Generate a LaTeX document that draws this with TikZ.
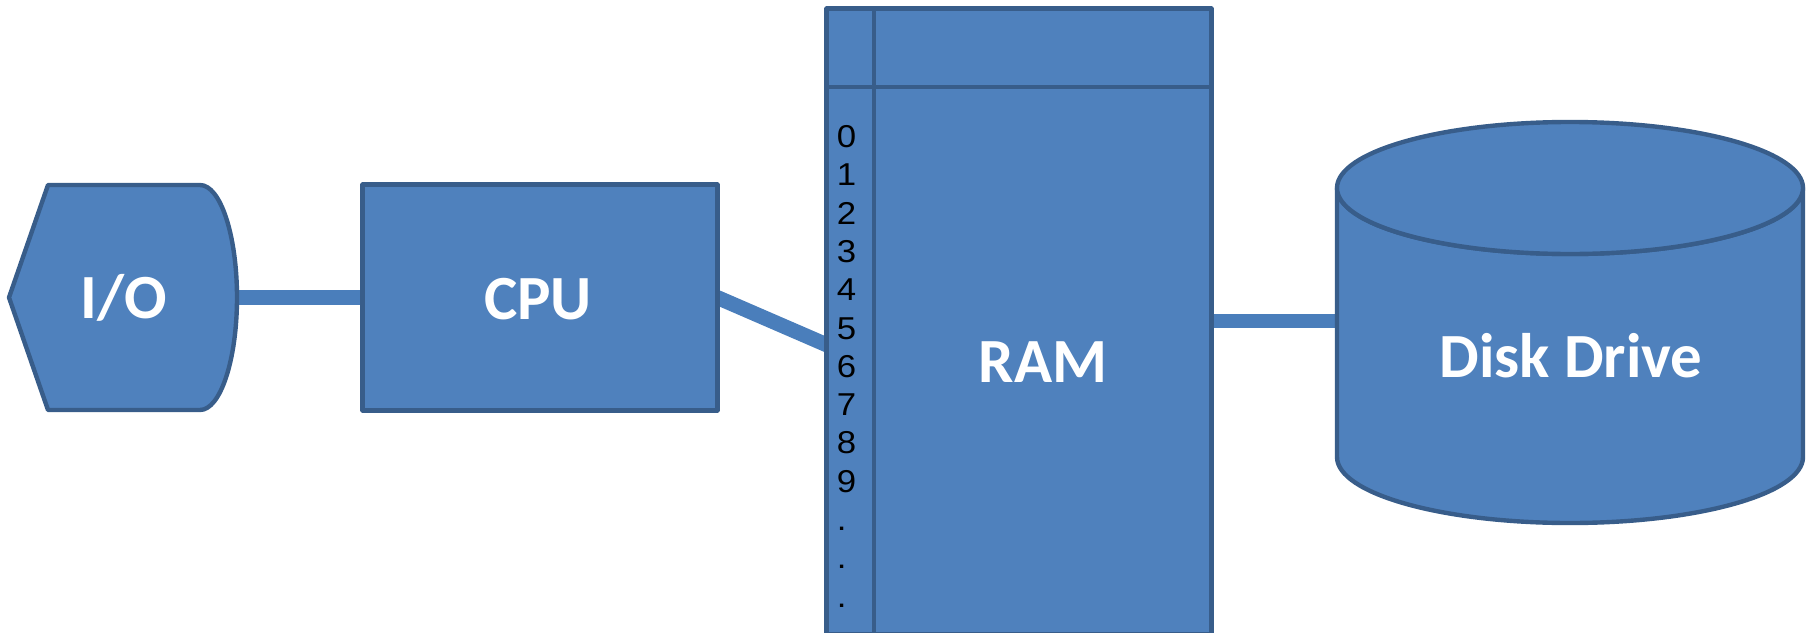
\documentclass[tikz,border=0pt]{standalone}
\usepackage{fontspec}
\setmainfont{Carlito}
\newfontfamily\digitfont[FakeStretch=1.1]{Liberation Sans}
\usetikzlibrary{fit}
\definecolor{boxfill}{HTML}{4F81BD}
\definecolor{boxline}{HTML}{385D8A}
\definecolor{wire}{HTML}{4A7EBB}
\begin{document}
\begin{tikzpicture}[x=0.02cm, y=-0.02cm,
  shapestyle/.style={fill=boxfill, draw=boxline, line width=2.5pt, line join=round},
  frame/.style={inner sep=0pt, draw=none},
  wirestyle/.style={draw=wire, line width=8.5pt},
  title/.style={font=\bfseries\fontsize{35.8}{40}\selectfont, text=white, anchor=base, inner sep=0pt},
  addr/.style={font=\digitfont\fontsize{18}{20}\selectfont, text=black, anchor=base west, inner sep=0pt}]
\useasboundingbox (0,0) rectangle (1811,632);

% frames that name each unit
\node[frame, fit={(9,185) (237,410)}] (io) {};
\node[frame, fit={(363,185) (717,410)}] (cpu) {};
\node[frame, fit={(827,9) (1211,634)}] (ram) {};
\node[frame, fit={(1337,122) (1804,523)}] (disk) {};
\coordinate (ramport) at (827,345);
\coordinate (diskport) at (1337,321);
\coordinate (ramout) at (1211,321);

% buses
\draw[wirestyle] (io.east) -- (cpu.west);
\draw[wirestyle] (cpu.east) -- (ramport);
\draw[wirestyle] (ramout) -- (diskport);

% I/O unit
\draw[shapestyle] (48,185) -- (200,185)
  arc[start angle=-90, end angle=90, x radius=37, y radius=112.5]
  -- (48,410) -- (9,297.5) -- cycle;
\node[title] (iotext) at (124,318) {I/O};

% processor
\draw[shapestyle] (cpu.north west) rectangle (cpu.south east);
\node[title] (cputext) at (538,319) {CPU};

% memory with its address column
\draw[shapestyle] (ram.north west) rectangle (ram.south east);
\draw[draw=boxline, line width=2.5pt] (874,9) -- (874,634);
\draw[draw=boxline, line width=2.5pt] (827,87) -- (1211,87);
\foreach \n [count=\k from 0] in {0,1,2,3,4,5,6,7,8,9,.,.,.} {
  \node[addr] (a\k) at (836.5,{147.5+38.3*\k}) {\n};
}
\node[title] (ramtext) at (1043,382) {RAM};

% disk drive cylinder
\draw[shapestyle] (1337,188) -- (1337,457)
  arc[start angle=180, end angle=0, x radius=233, y radius=66]
  -- (1803,188)
  arc[start angle=0, end angle=180, x radius=233, y radius=66] -- cycle;
\draw[shapestyle] (1570,188) ellipse[x radius=233, y radius=66];
\node[title] (disktext) at (1571,377) {Disk Drive};
\end{tikzpicture}
\end{document}
